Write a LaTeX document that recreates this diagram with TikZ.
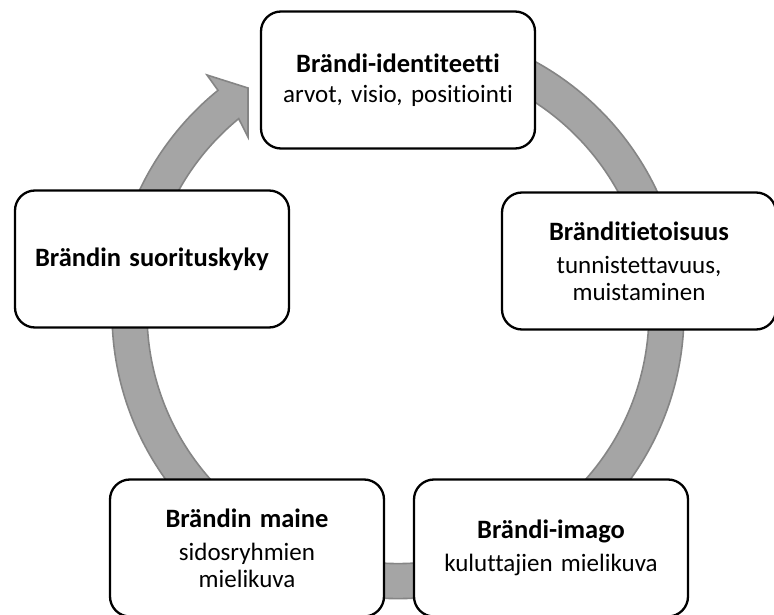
\documentclass[tikz,border=0pt]{standalone}
\usepackage{fontspec}
\setmainfont{Carlito}[Ligatures={NoCommon}, RawFeature={-liga;-clig}]
\usetikzlibrary{calc}
\definecolor{arrowfill}{HTML}{A5A5A5}
\definecolor{arrowline}{HTML}{858585}
\newcommand{\ttl}[1]{{\fontsize{26.5}{29}\selectfont\bfseries #1}}
\begin{document}
\begin{tikzpicture}[x=1pt,y=1pt,
  boxnode/.style={draw=black, line width=2.3pt, fill=white, rounded corners=20pt,
    minimum width=274pt, minimum height=137pt, text width=266pt, align=center,
    inner sep=0pt, font=\fontsize{25}{27}\selectfont},
  ringarrow/.style={fill=arrowfill, draw=arrowline, line width=1.6pt, line join=miter}]
\useasboundingbox (0,0) rectangle (774,614);
\coordinate (C) at (398,301.4);
\coordinate (tipout) at (207,539);
\coordinate (tip) at (248,526);
\coordinate (tipin) at (248,477);
\draw[ringarrow] ($(C)+(90:286pt)$) arc[start angle=90, end angle=-231, radius=286pt]
  -- (tipout) -- (tip) -- (tipin) -- ($(C)+(-230.6:251pt)$)
  arc[start angle=-230.6, end angle=90, radius=251pt] -- cycle;
\node[boxnode] (ident) at (398,534) {\ttl{Brändi-identiteetti}\\[3pt]arvot, visio, positiointi};
\node[boxnode] (aware) at (639,353) {\ttl{Bränditietoisuus}\\[6pt]tunnistettavuus,\\muistaminen};
\node[boxnode] (imago) at (551,66) {\ttl{Brändi-imago}\\[6pt]kuluttajien mielikuva};
\node[boxnode] (maine) at (247,66) {\ttl{Brändin maine}\\[6pt]sidosryhmien\\mielikuva};
\node[boxnode] (perf) at (152,355) {\ttl{Brändin suorituskyky}};
\end{tikzpicture}
\end{document}
